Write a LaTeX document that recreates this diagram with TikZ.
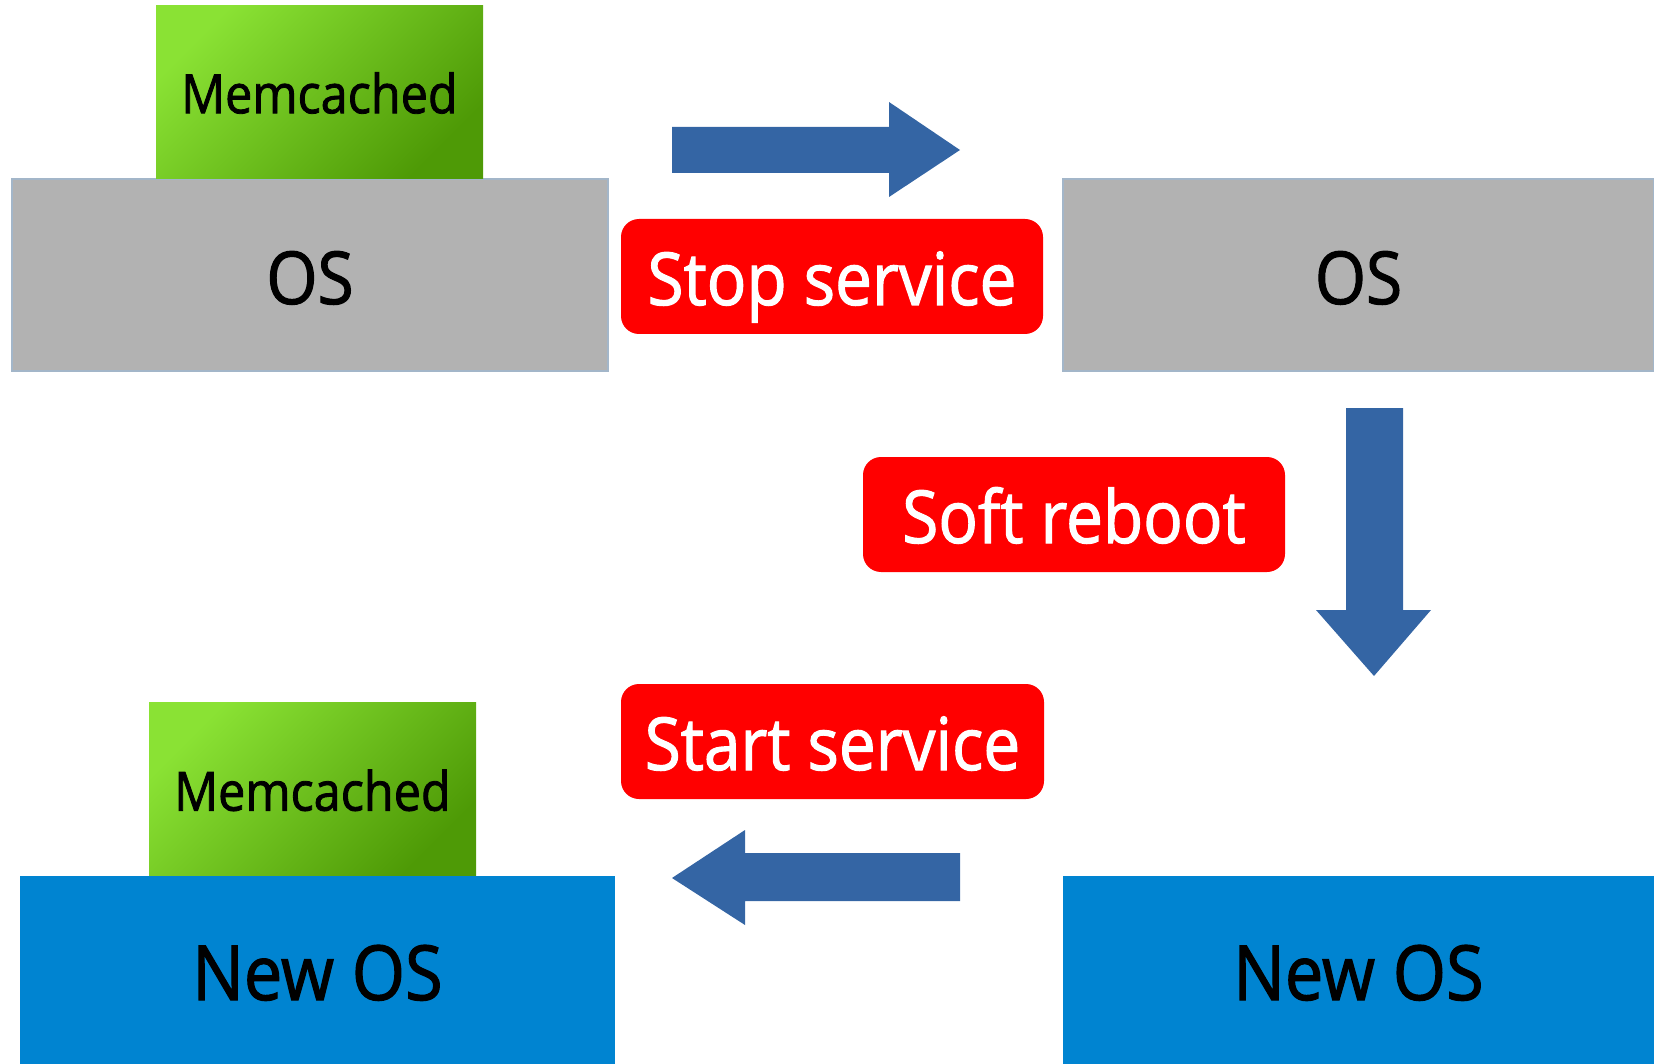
\documentclass[tikz,border=0pt]{standalone}
\usepackage{fontspec}
\setmainfont{Open Sans}[FakeStretch=0.9,FakeBold=1.5]
\usepackage{tikz}
\usetikzlibrary{positioning}
\definecolor{osgray}{HTML}{B2B2B2}
\definecolor{osedge}{HTML}{A3B6C9}
\definecolor{newblue}{HTML}{0084D1}
\definecolor{arrowblue}{HTML}{3465A4}
\definecolor{memlight}{HTML}{8AE234}
\definecolor{memdark}{HTML}{4E9A06}
\definecolor{labelred}{HTML}{FF0000}

\begin{document}
\begin{tikzpicture}[
    x=1pt, y=-1pt,
    node distance=0pt,
    osbox/.style={rectangle,fill=osgray,draw=osedge,line width=1.2pt,inner sep=0pt,
      minimum width=596pt,minimum height=192pt,text height=58pt,text depth=0pt,
      font=\fontsize{73}{80}\selectfont},
    newosbox/.style={rectangle,fill=newblue,inner sep=0pt,
      minimum width=595pt,minimum height=188pt,text height=60pt,text depth=0pt,
      font=\fontsize{76}{84}\selectfont},
    memcbox/.style={rectangle,top color=memlight,bottom color=memdark,shading angle=45,
      inner sep=0pt,minimum width=327pt,minimum height=173pt,text height=43pt,text depth=0pt,
      font=\fontsize{54}{60}\selectfont},
    actionlabel/.style={rectangle,fill=labelred,rounded corners=18pt,text=white,inner sep=0pt,
      minimum width=422pt,minimum height=115pt,text height=57pt,text depth=0pt,
      font=\fontsize{73}{82}\selectfont},
    blockarrow/.style={fill=arrowblue}
    ]
    \useasboundingbox (0,0) rectangle (1654,1064);

    % boxes before and after
    \node[osbox] (os1) at (310,275) {OS};
    \node[memcbox, above=of os1, xshift=9.5pt] (mem1) {Memcached};
    \node[osbox, minimum width=591pt] (os2) at (1358.5,275) {OS};
    \node[newosbox, minimum width=591pt] (new2) at (1358.5,970) {New OS};
    \node[newosbox] (new1) at (317.5,970) {New OS};
    \node[memcbox, above=of new1, xshift=-5pt] (mem2) {Memcached};

    % steps
    \node[actionlabel] (stop) at (832,276.5) {Stop service};
    \node[actionlabel] (soft) at (1074,514.5) {Soft reboot};
    \node[actionlabel, minimum width=423pt] (start) at (832.5,741.5) {Start service};

    % block arrows
    \fill[blockarrow] (672,127) -- (889,127) -- (889,102) -- (960,150)
      -- (889,197) -- (889,173) -- (672,173) -- cycle;
    \fill[blockarrow] (1346,408) -- (1403,408) -- (1403,610) -- (1431,610)
      -- (1374,676) -- (1316,610) -- (1346,610) -- cycle;
    \fill[blockarrow] (960,853) -- (745,853) -- (745,830) -- (672,878)
      -- (745,925) -- (745,901) -- (960,901) -- cycle;

  \end{tikzpicture}
\end{document}
